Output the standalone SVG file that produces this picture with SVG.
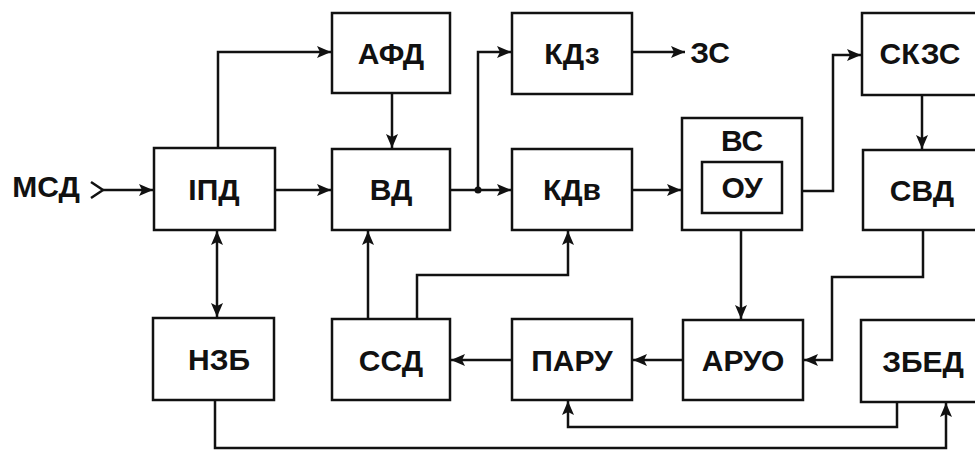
<svg xmlns="http://www.w3.org/2000/svg" width="975" height="450" viewBox="0 0 975 450">
<defs>
<style>
.box{fill:#fff;stroke:#111;stroke-width:2.5}
.lbl{font-family:"Liberation Sans",Arial,sans-serif;font-weight:bold;font-size:30px;fill:#111;text-anchor:middle}
.ln{fill:none;stroke:#111;stroke-width:2.5}
</style>
<marker id="ah" markerUnits="userSpaceOnUse" markerWidth="16" markerHeight="12" refX="14" refY="6" orient="auto-start-reverse">
<path d="M0,0 L14,6 L0,12 L3,6 Z" fill="#111"/>
</marker>
</defs>
<rect width="975" height="450" fill="#fff"/>
<g id="connectors">
<path class="ln" d="M91,182 L103,190 L91,198"/>
<path class="ln" d="M103,190 H153" marker-end="url(#ah)"/>
<path class="ln" d="M218,148 V52 H331" marker-end="url(#ah)"/>
<path class="ln" d="M275,190 H331" marker-end="url(#ah)"/>
<path class="ln" d="M392,93 V148" marker-end="url(#ah)"/>
<path class="ln" d="M450,190 H511" marker-end="url(#ah)"/>
<path class="ln" d="M478,190 V52 H511" marker-end="url(#ah)"/>
<circle cx="478" cy="190" r="3.5" fill="#111"/>
<path class="ln" d="M632,52 H685" marker-end="url(#ah)"/>
<path class="ln" d="M632,190 H681" marker-end="url(#ah)"/>
<path class="ln" d="M782,191 H833 V55 H861" marker-end="url(#ah)"/>
<path class="ln" d="M922,95 V149" marker-end="url(#ah)"/>
<path class="ln" d="M741,213 V319" marker-end="url(#ah)"/>
<path class="ln" d="M923,230 V277 H832 V360 H804" marker-end="url(#ah)"/>
<path class="ln" d="M683,360 H633" marker-end="url(#ah)"/>
<path class="ln" d="M512,360 H451" marker-end="url(#ah)"/>
<path class="ln" d="M368,319 V231" marker-end="url(#ah)"/>
<path class="ln" d="M417,319 V275 H568 V231" marker-end="url(#ah)"/>
<path class="ln" d="M897,402 V427 H568 V401" marker-end="url(#ah)"/>
<path class="ln" d="M215,400 V448 H946 V403" marker-end="url(#ah)"/>
<path class="ln" d="M217,231 V317" marker-start="url(#ah)" marker-end="url(#ah)"/>
</g>
<g id="msd"><text class="lbl" x="46" y="197">МСД</text></g>
<g id="zs"><text class="lbl" x="710" y="63">ЗС</text></g>
<g id="ipd"><rect class="box" x="154" y="148" width="121" height="82"/><text class="lbl" x="214" y="200">ІПД</text></g>
<g id="afd"><rect class="box" x="332" y="13" width="118" height="80"/><text class="lbl" x="391" y="64">АФД</text></g>
<g id="vd"><rect class="box" x="332" y="149" width="118" height="81"/><text class="lbl" x="391" y="200">ВД</text></g>
<g id="kdz"><rect class="box" x="512" y="13" width="120" height="81"/><text class="lbl" x="572" y="64">КДз</text></g>
<g id="kdv"><rect class="box" x="512" y="149" width="120" height="81"/><text class="lbl" x="572" y="200">КДв</text></g>
<g id="vs"><rect class="box" x="682" y="118" width="120" height="112"/><text class="lbl" x="742" y="151">ВС</text></g>
<g id="ou"><rect class="box" x="702" y="162" width="80" height="51"/><text class="lbl" x="742" y="198">ОУ</text></g>
<g id="skzs"><rect class="box" x="862" y="13" width="122" height="82"/><text class="lbl" x="920" y="64">СКЗС</text></g>
<g id="svd"><rect class="box" x="863" y="150" width="122" height="80"/><text class="lbl" x="922" y="201">СВД</text></g>
<g id="nzb"><rect class="box" x="153" y="318" width="121" height="82"/><text class="lbl" x="219" y="370">НЗБ</text></g>
<g id="ssd"><rect class="box" x="332" y="319" width="118" height="81"/><text class="lbl" x="391" y="371">ССД</text></g>
<g id="paru"><rect class="box" x="512" y="319" width="120" height="81"/><text class="lbl" x="572" y="371">ПАРУ</text></g>
<g id="aruo"><rect class="box" x="683" y="320" width="120" height="80"/><text class="lbl" x="743" y="371">АРУО</text></g>
<g id="zbed"><rect class="box" x="861" y="320" width="124" height="82"/><text class="lbl" x="923" y="372">ЗБЕД</text></g>
</svg>
